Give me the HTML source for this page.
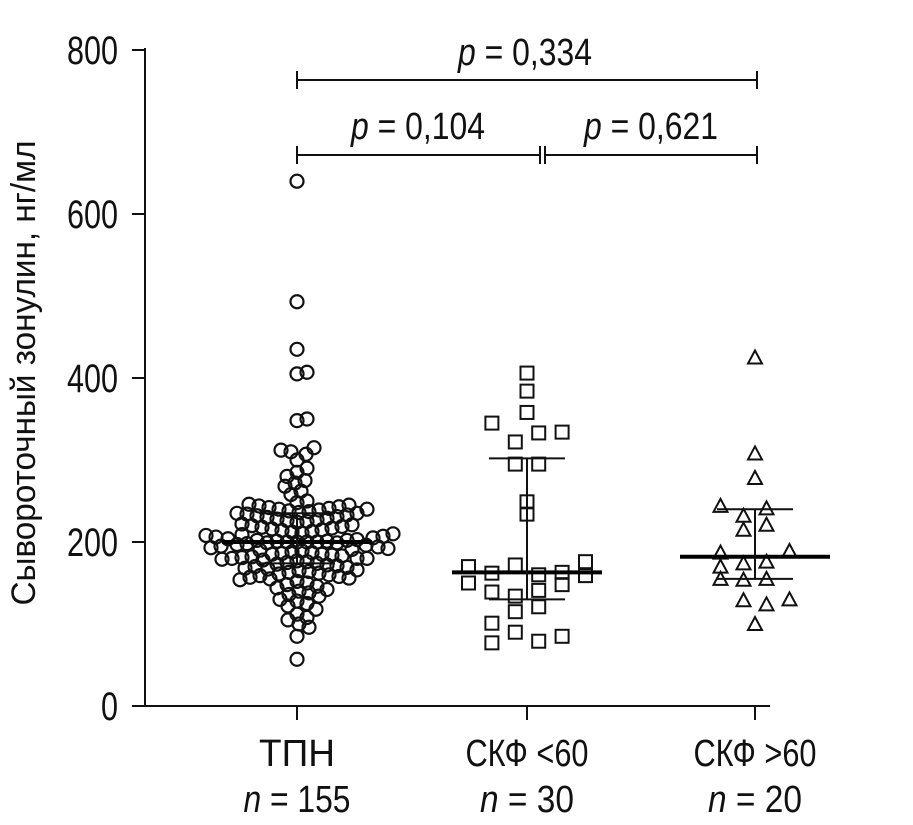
<!DOCTYPE html>
<html><head><meta charset="utf-8"><style>
body{margin:0;background:#fff}
svg text{font-family:"Liberation Sans",sans-serif;fill:#111}
</style></head><body>
<svg id="c" width="913" height="820"></svg>
<script>
const categories=["ТПН","СКФ <60","СКФ >60"];
const nLabels=["n = 155","n = 30","n = 20"];
const yTicks=[0,200,400,600,800];
const g1Values=[640,493,435,407,405,350,348,315,312,310,307,300,290,285,280,275,272,268,262,258,
250,248,246,245,244,243,242,241,240,240,
239,238,237,236,235,235,234,233,232,231,230,229,228,227,226,225,224,222,221,220,
219,218,217,216,215,214,213,212,211,210,209,208,207,206,205,204,203,202,202,201,201,200,200,200,200,199,199,198,197,196,
195,194,193,192,191,190,189,188,187,186,185,185,184,183,182,181,180,180,180,179,178,177,176,175,174,
173,172,171,170,169,168,167,166,165,164,163,162,161,160,159,158,157,156,155,154,
152,150,148,146,144,142,140,138,136,134,130,128,125,122,118,112,108,105,100,96,85,57];
const g1Stats={median:200,q1:174,q3:235};
const g2Values=[406,384,358,345,322,333,334,295,295,249,234,170,162,172,160,163,176,150,148,159,139,134,141,115,121,101,90,77,79,85];
const g2Slots=[0,0,0,-3,-1,1,3,-1,1,0,0,-5,-3,-1,1,3,5,-5,3,5,-3,-1,1,-1,1,-3,-1,-3,1,3];
const g2Stats={median:163,q1:130,q3:302};
const g3Values=[425,308,278,244,241,232,221,215,187,189,174,176,170,155,154,155,129,124,130,100];
const g3Slots=[0,0,0,-3,1,-1,1,-1,-3,3,-1,1,-3,-3,-1,1,-1,1,3,0];
const g3Stats={median:182,q1:155,q3:240};
const pLabels=["p = 0,334","p = 0,104","p = 0,621"];

const NS="http://www.w3.org/2000/svg";
const svg=document.getElementById('c');
function el(t,a,p){const e=document.createElementNS(NS,t);for(const k in a)e.setAttribute(k,a[k]);(p||svg).appendChild(e);return e;}
const y=v=>706-v*0.82;
const cx=[297,527,755];
let ax=el('line',{x1:145,y1:48,x2:145,y2:707,stroke:'#111','stroke-width':2});


let bx=el('line',{x1:144,y1:706,x2:770,y2:706,stroke:'#111','stroke-width':2});


yTicks.forEach(v=>{
 const t=el('line',{x1:132,y1:y(v),x2:145,y2:y(v),stroke:'#111','stroke-width':2});
 
 
 const s=String(v);
 const l=el('text',{x:118,y:y(v)+14,'text-anchor':'end','font-size':40,textLength:s.length*17,lengthAdjust:'spacingAndGlyphs'});
 
 
 l.textContent=s;
});
const yt=el('text',{transform:'translate(35,373) rotate(-90)','text-anchor':'middle','font-size':34,textLength:465,lengthAdjust:'spacingAndGlyphs'});


yt.textContent='Сывороточный зонулин, нг/мл';
const catW=[76,123,123],nW=[107,94,94];
categories.forEach((c,i)=>{
 const t=el('line',{x1:cx[i],y1:706,x2:cx[i],y2:720,stroke:'#111','stroke-width':2});
 
 
 const l=el('text',{x:cx[i],y:766,'text-anchor':'middle','font-size':38,textLength:catW[i],lengthAdjust:'spacingAndGlyphs'});
 
 
 l.textContent=c;
 const n=el('text',{x:cx[i],y:812,'text-anchor':'middle','font-size':38,textLength:nW[i],lengthAdjust:'spacingAndGlyphs'});
 
 
 const parts=nLabels[i].split(' ');
 const it=el('tspan',{'font-style':'italic'},n);it.textContent=parts[0];
 const rest=el('tspan',{},n);rest.textContent=' '+parts.slice(1).join(' ');
});
const placed=[];
const sorted=g1Values.map((v,i)=>({v,i})).sort((a,b)=>Math.abs(a.v-200)-Math.abs(b.v-200));
sorted.forEach(p=>{
 const py=y(p.v);let best=0;
 for(let k=0;k<400;k++){
  const off=(k%2?1:-1)*Math.ceil(k/2)*1;
  const ok=placed.every(q=>(q.x-(cx[0]+off))**2+(q.y-py)**2>=100);
  if(ok){best=off;break;}
 }
 placed.push({x:cx[0]+best,y:py});
 const c=el('circle',{cx:cx[0]+best,cy:py,r:6.5,fill:'none',stroke:'#111','stroke-width':2.2});
 
 
});
function stats(i,s,w){
 const m=el('line',{x1:cx[i]-w,y1:y(s.median),x2:cx[i]+w,y2:y(s.median),stroke:'#000','stroke-width':4});
 
 
 [s.q1,s.q3].forEach(q=>{
  const l=el('line',{x1:cx[i]-38,y1:y(q),x2:cx[i]+38,y2:y(q),stroke:'#111','stroke-width':2});
  
  
 });
 const v=el('line',{x1:cx[i],y1:y(s.q3),x2:cx[i],y2:y(s.q1),stroke:'#111','stroke-width':2});
 
 
}
stats(0,g1Stats,75);
g2Values.forEach((v,i)=>{
 const x=cx[1]+g2Slots[i]*11.7;
 const r=el('rect',{x:x-6.5,y:y(v)-6.5,width:13,height:13,fill:'none',stroke:'#111','stroke-width':2});
 
 
});
stats(1,g2Stats,75);
g3Values.forEach((v,i)=>{
 const x=cx[2]+g3Slots[i]*11.5,yy=y(v);
 const t=el('polygon',{points:`${x-7},${yy+6} ${x+7},${yy+6} ${x},${yy-7}`,fill:'none',stroke:'#111','stroke-width':2});
 
 
});
stats(2,g3Stats,75);
function bracket(x1,x2,yy,name){
 const g=el('g',{stroke:'#111','stroke-width':2});
 
 
 el('line',{x1,y1:yy,x2,y2:yy},g);
 el('line',{x1,y1:yy-9,x2:x1,y2:yy+9},g);
 el('line',{x1:x2,y1:yy-9,x2,y2:yy+9},g);
}
bracket(297,757,80,'bracket-tpn-gt60');
bracket(297,540,155,'bracket-tpn-lt60');
bracket(545,757,155,'bracket-lt60-gt60');
[[525,65],[418,139],[651,139]].forEach((p,i)=>{
 const t=el('text',{x:p[0],y:p[1],'text-anchor':'middle','font-size':38,textLength:134,lengthAdjust:'spacingAndGlyphs'});
 
 
 const parts=pLabels[i].split(' ');
 const a=el('tspan',{'font-style':'italic'},t);a.textContent=parts[0];
 const b=el('tspan',{},t);b.textContent=' '+parts.slice(1).join(' ');
});
</script>
</body></html>
